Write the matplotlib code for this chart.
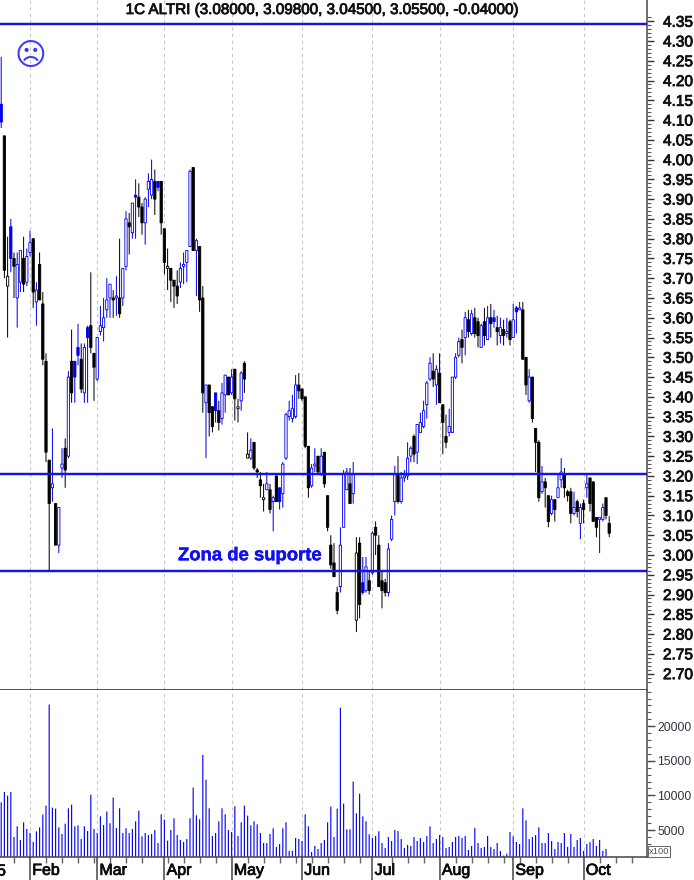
import matplotlib
matplotlib.use("Agg")
import matplotlib.pyplot as plt
import matplotlib.patheffects as pe
import numpy as np

opens = [4.14,4.06,3.68,3.83,3.75,3.65,3.69,3.75,3.69,3.765,
 3.80,3.64,3.735,3.635,3.49,3.24,3.17,3.13,3.025,3.22,
 3.27,3.25,3.49,3.49,3.525,3.495,3.41,3.575,3.58,3.51,
 3.445,3.565,3.575,3.62,3.65,3.65,3.65,3.65,3.65,3.73,
 3.84,3.815,3.91,3.905,3.88,3.84,3.925,3.91,3.945,3.945,
 3.945,3.825,3.725,3.725,3.695,3.68,3.69,3.73,3.74,3.78,
 3.98,3.77,3.78,3.65,3.385,3.43,3.375,3.41,3.365,3.345,
 3.405,3.45,3.41,3.47,3.37,3.39,3.485,3.245,3.245,3.285,
 3.215,3.19,3.14,3.165,3.165,3.135,3.20,3.17,3.155,3.245,
 3.35,3.345,3.35,3.43,3.42,3.40,3.275,3.175,3.225,3.25,
 3.205,3.26,3.15,3.025,2.98,2.905,2.92,3.07,3.165,3.18,
 3.155,2.835,3.03,2.93,2.91,2.935,2.955,3.07,3.025,2.935,
 2.93,2.905,3.04,3.135,3.205,3.135,3.195,3.20,3.25,3.30,
 3.26,3.31,3.325,3.38,3.445,3.465,3.43,3.46,3.38,3.30,
 3.31,3.31,3.45,3.505,3.545,3.55,3.595,3.56,3.60,3.59,
 3.525,3.59,3.545,3.60,3.60,3.575,3.555,3.57,3.56,3.59,
 3.55,3.625,3.62,3.62,3.50,3.39,3.45,3.32,3.285,3.16,
 3.185,3.15,3.105,3.14,3.145,3.19,3.205,3.16,3.16,3.105,
 3.135,3.08,3.13,3.17,3.195,3.185,3.095,3.09,3.09,3.145,
 3.08]
highs = [4.26,4.06,3.805,3.85,3.765,3.765,3.77,3.805,3.775,3.82,
 3.80,3.69,3.765,3.665,3.51,3.24,3.32,3.13,3.12,3.27,
 3.295,3.465,3.57,3.49,3.585,3.535,3.535,3.58,3.715,3.51,
 3.55,3.63,3.65,3.70,3.685,3.67,3.705,3.80,3.725,3.87,
 3.865,3.89,3.95,3.94,3.89,3.905,3.965,4.00,3.975,3.945,
 3.945,3.825,3.775,3.725,3.695,3.72,3.74,3.765,3.77,3.975,
 3.98,3.80,3.78,3.68,3.43,3.43,3.375,3.41,3.39,3.435,
 3.455,3.45,3.47,3.47,3.395,3.465,3.49,3.31,3.295,3.285,
 3.22,3.21,3.18,3.21,3.18,3.15,3.20,3.17,3.235,3.36,
 3.39,3.405,3.455,3.46,3.42,3.40,3.275,3.23,3.27,3.25,
 3.27,3.26,3.15,3.05,3.03,2.92,3.07,3.215,3.22,3.22,
 3.235,3.045,3.045,2.995,2.995,2.96,3.06,3.085,3.05,2.96,
 2.94,3.03,3.10,3.225,3.25,3.21,3.215,3.285,3.275,3.305,
 3.33,3.36,3.39,3.44,3.50,3.51,3.48,3.51,3.38,3.355,
 3.37,3.45,3.51,3.55,3.57,3.615,3.62,3.62,3.625,3.60,
 3.585,3.625,3.63,3.635,3.62,3.605,3.60,3.595,3.60,3.595,
 3.635,3.63,3.64,3.64,3.50,3.47,3.45,3.32,3.29,3.225,
 3.195,3.15,3.15,3.14,3.205,3.245,3.22,3.165,3.17,3.16,
 3.14,3.13,3.14,3.205,3.195,3.185,3.095,3.095,3.13,3.145,
 3.098]
lows = [4.08,3.70,3.55,3.715,3.65,3.575,3.665,3.665,3.68,3.755,
 3.625,3.58,3.645,3.48,3.235,2.96,3.135,3.025,3.005,3.195,
 3.17,3.245,3.385,3.385,3.48,3.41,3.385,3.385,3.51,3.39,
 3.44,3.555,3.54,3.60,3.60,3.60,3.605,3.60,3.63,3.72,
 3.76,3.80,3.80,3.855,3.81,3.785,3.88,3.90,3.86,3.92,
 3.81,3.71,3.67,3.64,3.625,3.635,3.675,3.685,3.69,3.78,
 3.77,3.655,3.615,3.36,3.245,3.30,3.31,3.335,3.315,3.33,
 3.36,3.405,3.405,3.34,3.335,3.365,3.41,3.245,3.24,3.215,
 3.195,3.145,3.11,3.165,3.105,3.06,3.135,3.115,3.12,3.24,
 3.34,3.335,3.345,3.395,3.39,3.27,3.145,3.17,3.21,3.205,
 3.20,3.17,3.06,2.965,2.945,2.85,2.905,3.07,3.165,3.13,
 3.13,2.805,2.84,2.90,2.905,2.90,2.95,3.00,2.92,2.865,
 2.895,2.895,3.035,3.10,3.13,3.13,3.185,3.19,3.235,3.235,
 3.23,3.31,3.32,3.345,3.44,3.425,3.38,3.385,3.255,3.27,
 3.30,3.31,3.445,3.50,3.485,3.505,3.55,3.555,3.55,3.525,
 3.525,3.53,3.545,3.55,3.575,3.53,3.535,3.53,3.55,3.53,
 3.55,3.56,3.62,3.495,3.405,3.385,3.335,3.21,3.135,3.155,
 3.12,3.07,3.10,3.085,3.145,3.17,3.145,3.135,3.08,3.10,
 3.095,3.04,3.08,3.145,3.11,3.085,3.045,3.005,3.085,3.09,
 3.045]
closes = [4.095,3.72,3.705,3.75,3.73,3.735,3.77,3.685,3.755,3.79,
 3.665,3.67,3.645,3.495,3.26,3.13,3.18,3.025,3.12,3.23,
 3.215,3.45,3.41,3.45,3.505,3.42,3.525,3.55,3.525,3.475,
 3.55,3.58,3.60,3.645,3.685,3.645,3.655,3.61,3.725,3.85,
 3.83,3.89,3.905,3.88,3.84,3.90,3.945,3.95,3.90,3.93,
 3.84,3.74,3.73,3.695,3.68,3.655,3.725,3.735,3.77,3.97,
 3.77,3.795,3.645,3.41,3.43,3.36,3.325,3.365,3.335,3.41,
 3.455,3.405,3.45,3.395,3.375,3.46,3.445,3.255,3.265,3.22,
 3.21,3.175,3.145,3.18,3.115,3.145,3.135,3.135,3.23,3.355,
 3.365,3.37,3.43,3.415,3.395,3.275,3.17,3.22,3.23,3.21,
 3.25,3.18,3.07,2.975,2.945,2.86,3.025,3.205,3.21,3.13,
 3.205,3.005,2.875,2.905,2.97,2.91,3.055,3.05,2.92,2.91,
 2.905,3.015,3.09,3.205,3.135,3.195,3.20,3.245,3.27,3.255,
 3.33,3.335,3.365,3.435,3.485,3.445,3.47,3.385,3.335,3.285,
 3.325,3.45,3.50,3.54,3.525,3.60,3.565,3.61,3.56,3.555,
 3.58,3.555,3.60,3.585,3.59,3.565,3.575,3.555,3.565,3.545,
 3.595,3.615,3.625,3.495,3.43,3.45,3.345,3.285,3.145,3.185,
 3.17,3.085,3.14,3.115,3.17,3.21,3.17,3.15,3.105,3.12,
 3.11,3.12,3.115,3.18,3.13,3.085,3.07,3.095,3.12,3.10,
 3.055]
volumes = [9005,10500,9970,10500,3990,5530,3560,6110,5150,4570,
 3270,4810,5390,7220,8520,23130,8230,8090,5390,4430,
 5920,8140,8670,5530,5680,3700,5530,4860,10110,5150,
 4570,6980,5730,7660,5970,9680,5290,8140,4570,5250,
 4570,5150,6260,7800,4090,4570,4280,4430,5000,3120,
 7270,6500,3460,5000,6690,4280,3560,3270,3700,6690,
 11130,7130,6550,15850,12280,8140,4140,4570,6260,8140,
 7270,5000,4720,8430,4140,
 6110,8520,7080,5680,6260,5820,4570,3120,3120,4430,
 5250,2550,2980,5250,6110,1970,1970,3850,3700,3410,
 7270,5530,1820,2690,2260,3120,3560,6110,8380,3990,
 8090,22690,8810,5100,5100,11990,7410,10260,6980,6260,
 4380,3850,4140,4810,3120,2400,3990,3410,5000,4860,
 3700,2400,2840,2690,3990,3410,3850,3270,4140,5530,
 3120,3700,4280,3990,2400,2550,3270,3990,4140,
 3850,4140,2110,2690,5290,3120,2400,2550,4140,2550,
 2260,3120,1970,1300,1580,4720,4090,3270,2980,8140,
 6400,3700,3990,4280,5390,3120,3120,4570,3410,2260,
 3270,3120,4570,2550,4430,2550,3560,3850,1970,2980,
 3270,3700,2690,3560,1970,2260]
month_index = [9,30,51,72,94,116,137,160,182]
month_labels = ["Feb","Mar","Apr","May","Jun","Jul","Aug","Sep","Oct"]
week_index = [4,14,19,24,29,34,39,44,52,57,62,67,77,82,87,92,97,102,107,112,
              122,127,132,142,147,152,157,162,167,172,177,187,192,197]
level_lines = [4.343,3.205,2.96]
title = "1C ALTRI (3.08000, 3.09800, 3.04500, 3.05500, -0.04000)"

W,H = 694,880
BLUE = "#0000f0"
plt.rcParams["font.family"] = ["Liberation Sans","DejaVu Sans"]
fig = plt.figure(figsize=(W/100,H/100),dpi=100,facecolor="white")
ax_w = 647/W
ax = fig.add_axes([0,(H-690)/H,ax_w,690/H])
av = fig.add_axes([0,(H-857)/H,ax_w,167/H],sharex=ax)
ax.set_xlim((0-1.2)/3.2,(647-1.2)/3.2)
ax.set_ylim(3-135/395.4,3+555/395.4)
av.set_ylim(1100,1100+167*144.5)

idx = np.arange(len(closes))
o,h,l,c = map(np.array,(opens,highs,lows,closes))
prev = np.r_[o[0],c[:-1]]
col = np.where(c>=prev,BLUE,"#000000")
col[0] = BLUE
filled = c<o

for a in (ax,av):
    for m in month_index:
        a.axvline(m,color="#c8c8c8",lw=0.8,dashes=(3,3),zorder=1)

wk = ax.vlines(idx,l,h,colors=col,lw=0.72,zorder=2)
wk.set_snap(False)
bars = ax.bar(idx,np.abs(c-o),bottom=np.minimum(o,c),width=0.72,
              facecolor=[cc if f else "white" for cc,f in zip(col,filled)],
              edgecolor=col,lw=0.62,zorder=3)
for p in bars: p.set_snap(False)
for lv in level_lines:
    ax.axhline(lv,color="#1414e6",lw=1.75,zorder=4)

vb = av.vlines(np.arange(len(volumes)),1100,volumes,colors="#0a0af0",lw=0.85,zorder=2)
vb.set_snap(False)

for a in (ax,av):
    for s in ("top","left"): a.spines[s].set_visible(False)
    a.spines["right"].set_color("#555555"); a.spines["right"].set_linewidth(1.2)
    a.yaxis.tick_right()
    a.set_facecolor("white")
ax.spines["bottom"].set_color("#222222"); ax.spines["bottom"].set_linewidth(1.1)
av.spines["bottom"].set_color("#444444"); av.spines["bottom"].set_linewidth(1.1)

ptick = np.arange(270,436,5)/100
ax.set_yticks(ptick); ax.set_yticklabels([f"{v:.2f}" for v in ptick])
ax.set_yticks(np.arange(268,437,1)/100,minor=True)
ax.tick_params(axis="y",which="major",length=5,width=1,color="#333333",pad=6.5,labelsize=11.1,labelcolor="#111111")
ax.tick_params(axis="y",which="minor",length=3,width=0.8,color="#555555")
for t in ax.get_yticklabels():
    t.set_path_effects([pe.withStroke(linewidth=0.6,foreground="#111111")])
ax.tick_params(axis="x",which="both",bottom=False,labelbottom=False)

vt = [5000,10000,15000,20000]
av.set_yticks(vt); av.set_yticklabels([str(v) for v in vt])
av.set_yticks(np.arange(2000,25001,1000),minor=True)
av.tick_params(axis="y",which="major",length=6,width=1,color="#444444",pad=1.6,labelsize=8.8,labelcolor="#333344")
av.tick_params(axis="y",which="minor",length=3,width=0.8,color="#555555")

av.set_xticks(month_index)
av.set_xticklabels([""]*len(month_index))
av.set_xticks(week_index,minor=True)
av.tick_params(axis="x",which="major",length=16.5,width=1.2,color="#555555",pad=0)
av.tick_params(axis="x",which="minor",length=4.5,width=1,color="#666666")

stroke = [pe.withStroke(linewidth=0.55,foreground="#0c0c0c")]
for m,lab in zip(month_index,month_labels):
    av.annotate(lab,(m,0),xycoords=("data","axes fraction"),xytext=(1.6,-9.6),textcoords="offset points",
                ha="left",va="center",fontsize=11.5,color="#0c0c0c",path_effects=stroke,annotation_clip=False)
fig.text(-3/W,1-871/H,"5",ha="left",va="center",fontsize=11.5,color="#0c0c0c",path_effects=stroke)

fig.text(322.5/W,1-10/H,title,ha="center",va="center",fontsize=10.95,color="#111111",
         path_effects=[pe.withStroke(linewidth=0.6,foreground="#111111")])
ax.text(55.25,2.998,"Zona de suporte",ha="left",va="center",fontsize=13.3,fontweight="bold",color="#1010f0",zorder=5,
        path_effects=[pe.withStroke(linewidth=0.3,foreground="#1010f0")])
fig.text(30/W,1-56/H,"\u2639",ha="center",va="center",fontsize=22,color="#3a3aff",family="DejaVu Sans")
fig.text(659/W,1-851.5/H,"x100",ha="center",va="center",fontsize=6.8,color="#555555",
         bbox=dict(boxstyle="square,pad=0.1",fc="white",ec="#666666",lw=0.7))

fig.savefig("out.png",dpi=100,facecolor="white")
